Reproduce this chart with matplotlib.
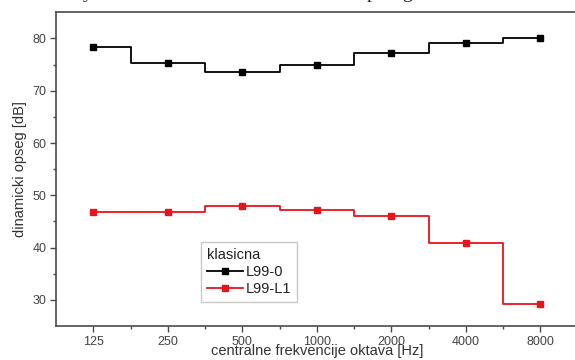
import matplotlib.pyplot as plt
import numpy as np

freqs = ["125", "250", "500", "1000", "2000", "4000", "8000"]
l99_0 = [78.4, 75.4, 73.6, 75.0, 77.2, 79.2, 80.1]
l99_l1 = [46.75, 46.75, 48.0, 47.25, 46.0, 40.9, 29.3]

plt.rcParams['font.family'] = ['Liberation Sans', 'DejaVu Sans']
gray = '#4a4a4a'

fig = plt.figure(figsize=(5.75, 3.6), dpi=100)
ax = fig.add_axes([0.0974, 0.0944, 0.907, 0.8714])

x = np.arange(len(freqs))
ax.plot(x, l99_0, drawstyle='steps-mid', color='black', lw=1.3,
        marker='s', ms=4.5, label='L99-0')
ax.plot(x, l99_l1, drawstyle='steps-mid', color='#e8141a', lw=1.3,
        marker='s', ms=4.5, label='L99-L1')

ax.set_xlim(-0.5, 6.5)
ax.set_ylim(25, 85)
ax.set_xticks(x)
ax.set_xticklabels(freqs)
ax.set_xticks(x[:-1] + 0.5, minor=True)
ax.set_yticks([30, 40, 50, 60, 70, 80])
ax.set_yticks([35, 45, 55, 65, 75], minor=True)

for s in ax.spines.values():
    s.set_color(gray)
    s.set_linewidth(1.2)
ax.tick_params(which='major', length=4, width=1, color=gray, labelcolor='#444444',
               labelsize=9, pad=3)
ax.tick_params(which='minor', length=2.5, width=1, color=gray)

ax.set_xlabel('centralne frekvencije oktava [Hz]', fontsize=10.5, color='#333333', labelpad=-3)
ax.set_ylabel('dinamicki opseg [dB]', fontsize=10.5, color='#333333', labelpad=4)

leg = ax.legend(title='klasicna', loc='upper left', bbox_to_anchor=(0.2635, 0.29),
                fontsize=10.5, title_fontsize=10.5, frameon=True, fancybox=False,
                edgecolor='#bbbbbb', handlelength=2.5, handletextpad=0.2,
                borderpad=0.4, labelspacing=0.2, alignment='left')
leg.get_frame().set_linewidth(1.0)
for t in leg.get_texts():
    t.set_color('#222222')
leg.get_title().set_color('#222222')

# cut-off line of text above the chart
for xp, ch in [(83, 'y'), (367, 'p'), (402, 'g')]:
    fig.text(xp / 575, 1 + 1.5 / 360, ch, fontsize=14, family='Liberation Serif',
             va='baseline', color='#222222')

fig.savefig('out.png', dpi=100)
